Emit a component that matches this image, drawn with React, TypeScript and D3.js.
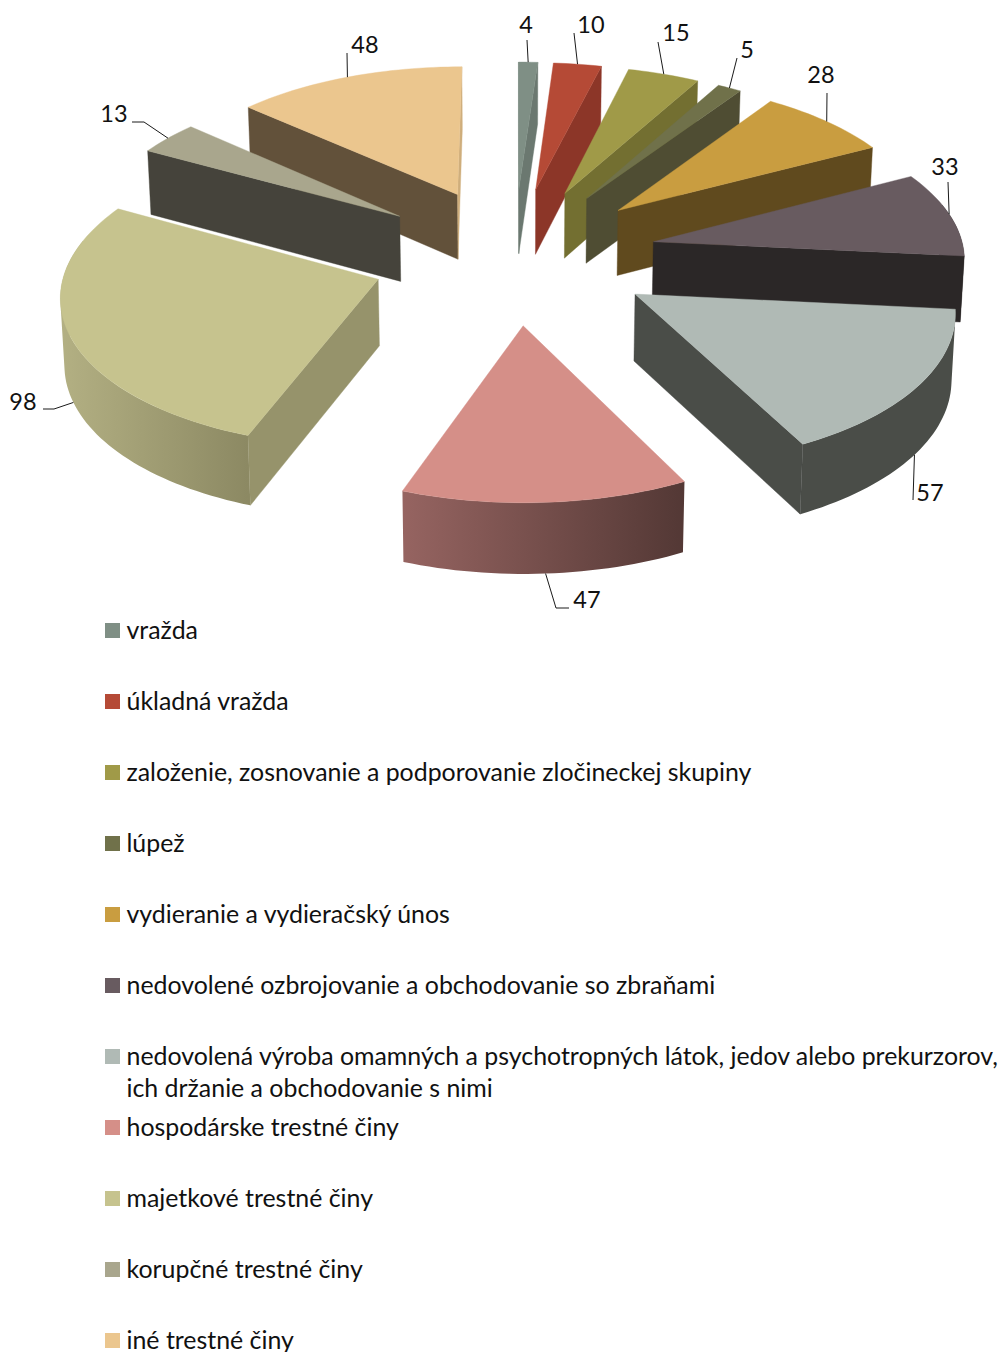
import React from "react";
import * as d3 from "d3";

const categories = [
  "vražda",
  "úkladná vražda",
  "založenie, zosnovanie a podporovanie zločineckej skupiny",
  "lúpež",
  "vydieranie a vydieračský únos",
  "nedovolené ozbrojovanie a obchodovanie so zbraňami",
  "nedovolená výroba omamných a psychotropných látok, jedov alebo prekurzorov,|ich držanie a obchodovanie s nimi",
  "hospodárske trestné činy",
  "majetkové trestné činy",
  "korupčné trestné činy",
  "iné trestné činy",
];
const values = [4, 10, 15, 5, 28, 33, 57, 47, 98, 13, 48];
const topColors = ["#7f8f85", "#b54a36", "#a09a48", "#70714a", "#c99d40", "#685b60", "#b0bab5", "#d58f88", "#c6c38e", "#a9a68d", "#ebc68e"];
const wallColors = ["#6b7870", "#8c3628", "#736f31", "#4f4d33", "#604a1e", "#2b2727", "#4a4d48", "#5a3a37", "#96936b", "#45433b", "#62513a"];
const endWallColors = ["#6b7870", "#8c3628", "#736f31", "#4f4d33", "#604a1e", "#2b2727", "#4a4d48", "#5a3a37", "#96936b", "#45433b", "#cfae7c"];
const arcLeftColors = ["#6b7870", "#8c3628", "#736f31", "#4f4d33", "#604a1e", "#2b2727", "#4a4d48", "#966461", "#b3b083", "#45433b", "#62513a"];
const arcRightColors = ["#6b7870", "#8c3628", "#736f31", "#4f4d33", "#604a1e", "#2b2727", "#4a4d48", "#533835", "#8c8963", "#45433b", "#62513a"];

// Label layout (leader polyline relative to rim anchor is computed from the slice's mid angle)
const labelTextPos: [number, number][] = [[526, 25], [591, 25], [676, 33], [747, 50], [821, 75], [945, 167], [930, 493], [587, 600], [23, 402], [114, 114], [365, 45]];
const leaderVia: [number, number][][] = [
  [[527, 40]], [[574, 33]], [[658, 42]], [[737, 58]], [[827, 93]], [[948, 182]], [[913, 500]],
  [[556, 608], [569, 608]], [[54, 409], [43, 409]], [[144, 122], [132, 122]], [[347, 53]],
];
const leaderOnWall = [false, false, false, false, false, false, true, true, true, false, false];

const CX = 514, CY = 254.8, A = 311, B = 148.6, P = 0.086, EXPLODE = 0.46, DEPTH = 66, DEPTH_P = 0.05, CONVERGE = 0.991;
const ARC_FROM = (75 * Math.PI) / 180, ARC_TO = (285 * Math.PI) / 180;
const FONT = "Lato, 'Open Sans', sans-serif";

type Pt = [number, number];
const scaleFactor = (Y: number) => 1 / (1 - P * Y);
const project = (X: number, Y: number, low: boolean): Pt => {
  const s = scaleFactor(Y);
  const x = CX + A * X * s;
  const y = CY + B * Y * s;
  return low ? [CX + (x - CX) * CONVERGE, y + DEPTH / (1 - DEPTH_P * Y)] : [x, y];
};

const pieLayout = d3.pie<number>().sort(null).startAngle(0).endAngle(2 * Math.PI);
const line = d3.line<Pt>().x((d) => d[0]).y((d) => d[1]);
const toDeg = d3.scaleLinear().domain([0, 2 * Math.PI]).range([0, 360]);

const cross = (a: Pt, b: Pt, c: Pt) => (b[0] - a[0]) * (c[1] - a[1]) - (b[1] - a[1]) * (c[0] - a[0]);

export default function App() {
  const arcs = pieLayout(values).map((d, i) => {
    const mid = (d.startAngle + d.endAngle) / 2;
    const ox = EXPLODE * Math.sin(mid);
    const oy = -EXPLODE * Math.cos(mid);
    const rim = (t: number, low = false) => project(ox + Math.sin(t), oy - Math.cos(t), low);
    const apex = (low = false) => project(ox, oy, low);
    const n = Math.max(2, Math.ceil(toDeg(d.endAngle - d.startAngle) / 1.5));
    const ts = d3.range(n + 1).map((k) => d.startAngle + ((d.endAngle - d.startAngle) * k) / n);
    return { d, i, mid, oy, rim, apex, ts };
  });
  const order = [...arcs].sort((a, b) => a.oy - b.oy);

  const slices = order.map(({ d, i, rim, apex, ts }) => {
    const top = [apex(), ...ts.map((t) => rim(t))] as Pt[];
    const startR = rim(d.startAngle), endR = rim(d.endAngle);
    const apexT = apex(), apexB = apex(true);
    const wallVisible = (edge: Pt, other: Pt) => cross(apexT, edge, other) * cross(apexT, edge, apexB) < 0;
    const startVis = wallVisible(startR, endR);
    const endVis = wallVisible(endR, startR);
    const lo = Math.max(d.startAngle, ARC_FROM), hi = Math.min(d.endAngle, ARC_TO);
    let arcWall: string | null = null;
    let gx: [number, number] = [0, 1];
    if (hi > lo) {
      const m = Math.max(2, Math.ceil(toDeg(hi - lo) / 1.5));
      const as = d3.range(m + 1).map((k) => lo + ((hi - lo) * k) / m);
      gx = d3.extent(as.map((t) => rim(t)), (p) => p[0]) as [number, number];
      // one path of consistently wound quads, so the sweep fills to the silhouette without seams
      arcWall = d3.pairs(as).map(([t0, t1]) => {
        const q: Pt[] = [rim(t0), rim(t1), rim(t1, true), rim(t0, true)];
        const area = d3.polygonArea(q);
        return line(area < 0 ? q.reverse() : q) + "Z";
      }).join("");
    }
    const quad = (edge: Pt, t: number) => line([apexT, edge, rim(t, true), apexB]) + "Z";
    return (
      <g key={i}>
        <defs>
          <linearGradient id={`arc${i}`} gradientUnits="userSpaceOnUse" x1={gx[0]} x2={gx[1]} y1={0} y2={0}>
            <stop offset="0" stopColor={arcLeftColors[i]} />
            <stop offset="1" stopColor={arcRightColors[i]} />
          </linearGradient>
        </defs>
        {arcWall && <path d={arcWall} fill={`url(#arc${i})`} fillRule="nonzero" />}
        {startVis && <path d={quad(startR, d.startAngle)} fill={wallColors[i]} stroke={wallColors[i]} strokeWidth={0.4} />}
        {endVis && <path d={quad(endR, d.endAngle)} fill={endWallColors[i]} stroke={endWallColors[i]} strokeWidth={0.4} />}
        <path d={line(top) + "Z"} fill={topColors[i]} stroke={topColors[i]} strokeWidth={0.4} />
      </g>
    );
  });

  const labels = arcs.map(({ i, mid, rim }) => {
    const anchor = rim(mid, leaderOnWall[i]);
    const pts = [anchor, ...leaderVia[i]] as Pt[];
    return (
      <g key={i}>
        <path d={line(pts) as string} fill="none" stroke="#1a1a1a" strokeWidth={1} />
        <text x={labelTextPos[i][0]} y={labelTextPos[i][1]} dy="0.35em" textAnchor="middle" fontSize={23.5} fontFamily={FONT} fill="#111">
          {values[i]}
        </text>
      </g>
    );
  });

  const rowScale = d3.scaleLinear().domain([0, categories.length - 1]).range([630.5, 1340.5]);
  const legend = categories.map((c, i) => {
    const y = rowScale(i);
    return (
      <g key={i}>
        <rect x={105} y={y - 7.5} width={15} height={15} fill={topColors[i]} />
        {c.split("|").map((t, k) => (
          <text key={k} x={126.5} y={y + 0.7 + k * 32} dy="0.33em" fontSize={24.9} fontFamily={FONT} fill="#111">
            {t}
          </text>
        ))}
      </g>
    );
  });

  return (
    <svg width={1006} height={1352} viewBox="0 0 1006 1352" style={{ position: "absolute", left: 0, top: 0, background: "#fff" }}>
      {slices}
      {labels}
      {legend}
    </svg>
  );
}
